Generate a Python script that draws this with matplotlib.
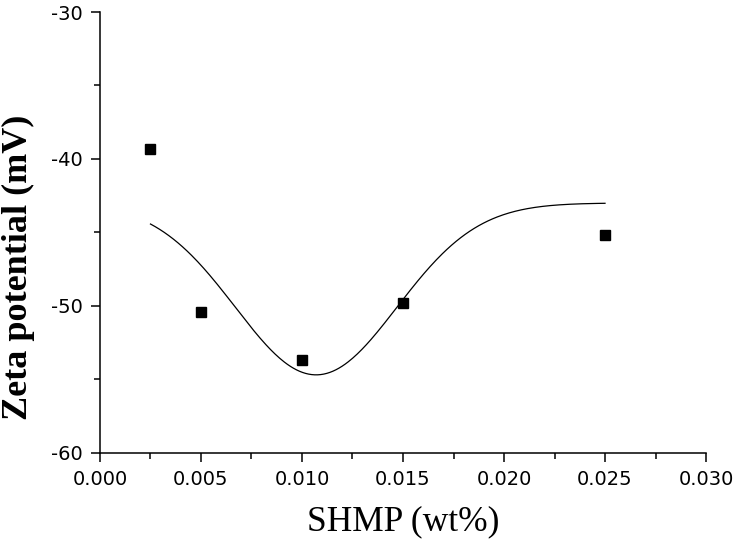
import numpy as np
import matplotlib
matplotlib.use("Agg")
import matplotlib.pyplot as plt
from matplotlib.ticker import MultipleLocator, FormatStrFormatter

plt.rcParams['axes.unicode_minus'] = False

# measured points
shmp = [0.0025, 0.005, 0.010, 0.015, 0.025]
zeta = [-39.3, -50.4, -53.7, -49.8, -45.2]

# Gaussian fit: y0, depth, centre, sigma
fit_y0 = -43.0
fit_depth = -11.7
fit_xc = 0.0107
fit_sigma = 0.0040
fit_range = (0.0025, 0.025)

fig = plt.figure(figsize=(7.33, 5.48), dpi=100)
ax = fig.add_axes([0.1364, 0.1739, 0.8268, 0.8041])

xf = np.linspace(fit_range[0], fit_range[1], 300)
yf = fit_y0 + fit_depth * np.exp(-(xf - fit_xc) ** 2 / (2 * fit_sigma ** 2))
ax.plot(xf, yf, color='black', linewidth=0.9)
ax.plot(shmp, zeta, 's', color='black', markersize=7)

ax.set_xlim(0, 0.030)
ax.set_ylim(-60, -30)
ax.xaxis.set_major_locator(MultipleLocator(0.005))
ax.xaxis.set_minor_locator(MultipleLocator(0.0025))
ax.yaxis.set_major_locator(MultipleLocator(10))
ax.yaxis.set_minor_locator(MultipleLocator(5))
ax.xaxis.set_major_formatter(FormatStrFormatter('%.3f'))
ax.yaxis.set_major_formatter(FormatStrFormatter('%d'))

for s in ['top', 'right']:
    ax.spines[s].set_visible(False)
for s in ['left', 'bottom']:
    ax.spines[s].set_linewidth(1.1)

ax.tick_params(which='major', direction='out', length=6.5, width=1.1,
               labelsize=14, pad=6)
ax.tick_params(which='minor', direction='out', length=4, width=1.1)

ax.set_xlabel('SHMP (wt%)', family='Liberation Serif', fontsize=25.5, labelpad=12)
fig.text(18 / 733, 1 - 267 / 548, 'Zeta potential (mV)', family='Liberation Serif',
         fontsize=26, fontweight='bold', rotation=90, ha='center', va='center')

fig.savefig('out.png', dpi=100)
